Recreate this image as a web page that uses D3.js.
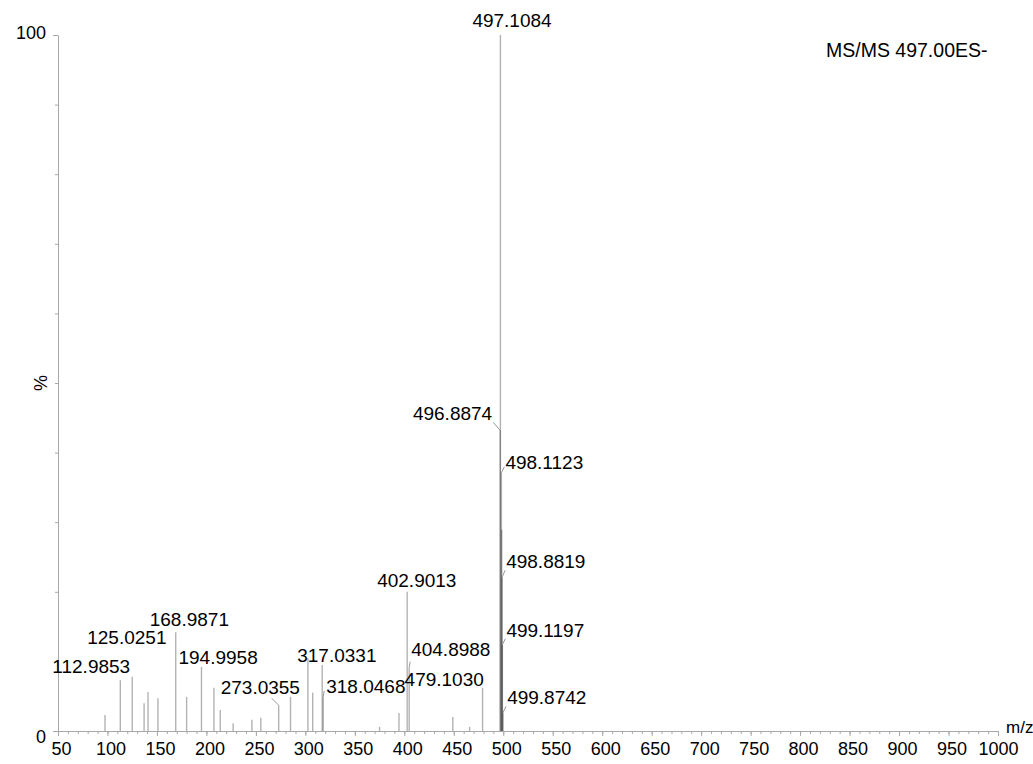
<!DOCTYPE html>
<html>
<head>
<meta charset="utf-8">
<script src="https://cdn.jsdelivr.net/npm/d3@7"></script>
<style>
  html, body { margin: 0; padding: 0; background: #fff; }
  svg { display: block; font-family: "Liberation Sans", Arial, sans-serif; }
  .axis path, .axis line { stroke: #a8a8a8; }
  .axis text { fill: #000; font-size: 18px; }
</style>
</head>
<body>
<svg id="chart" width="1033" height="764"></svg>
<script>
// peak list (m/z, relative intensity %)
const peakMz = [97.5, 112.9853, 125.0251, 137, 141, 151, 168.9871, 180, 194.9958, 207.6, 214, 227, 246, 255,
  273.0355, 285, 302.6, 307.4, 317.0331, 318.0468, 375, 394.6, 402.9013, 404.8988, 449, 466, 479.1030,
  496.8874, 497.1084, 498.1123, 498.4, 498.8819, 499.1197, 499.8742];
const peakPct = [2.3, 7.3, 7.8, 4.0, 5.6, 4.7, 14.2, 4.9, 9.2, 6.2, 3.0, 1.1, 1.6, 1.9,
  3.7, 4.9, 10.5, 5.5, 9.5, 4.9, 0.6, 2.6, 20.0, 9.1, 2.0, 0.6, 6.2,
  43.2, 100, 37.1, 28.9, 22.1, 12.4, 2.7];

const labelled = ["112.9853", "125.0251", "168.9871", "194.9958", "273.0355", "317.0331", "318.0468",
  "402.9013", "404.8988", "479.1030", "496.8874", "497.1084", "498.1123", "498.8819", "499.1197", "499.8742"];

const xTicks = d3.range(50, 1001, 50);
const xMinor = d3.range(50, 1001, 10);
const yTicks = [0, 100];
const yMinor = d3.range(0, 101, 10);
const title = "MS/MS 497.00ES-";

// label placement relative to the peak top, in px: [dx, dy, anchor, leader start or null]
const labelLayout = {
  "112.9853": [-68, -7, "start", null],
  "125.0251": [-45, -33, "start", null],
  "168.9871": [-26, -6, "start", null],
  "194.9958": [-23, -3, "start", null],
  "273.0355": [-58, -11, "start", [-7, -7]],
  "317.0331": [-25, -3, "start", null],
  "318.0468": [3, -4, "start", [1, -6]],
  "402.9013": [-30, -5, "start", null],
  "404.8988": [2, -12, "start", [1, -6]],
  "479.1030": [-78, -2, "start", null],
  "496.8874": [-8, -10, "end", [-7, -8]],
  "497.1084": [-28, -8, "start", null],
  "498.1123": [4, -4, "start", [3, -6]],
  "498.8819": [4, -9, "start", [3, -7]],
  "499.1197": [4, -8, "start", [3, -6]],
  "499.8742": [4, -8, "start", [3, -6]]
};

const svg = d3.select("#chart");
const x = d3.scaleLinear().domain([50, 1000]).range([58, 998]);
const y = d3.scaleLinear().domain([0, 100]).range([731, 35]);

// minor ticks
svg.append("g").attr("class", "axis").attr("transform", `translate(0,${y(0)})`)
  .call(d3.axisBottom(x).tickValues(xMinor).tickSize(3).tickFormat(""))
  .call(g => g.select(".domain").remove());
svg.append("g").attr("class", "axis").attr("transform", `translate(${x(50)},0)`)
  .call(d3.axisLeft(y).tickValues(yMinor).tickSize(3).tickFormat(""))
  .call(g => g.select(".domain").remove());

// main axes
const xAxis = svg.append("g").attr("class", "axis").attr("transform", `translate(0,${y(0)})`)
  .call(d3.axisBottom(x).tickValues(xTicks).tickSize(5).tickPadding(6).tickSizeOuter(0)
    .tickFormat(d3.format("d")));
xAxis.selectAll("text").attr("dx", d => d === 1000 ? 0 : 3);

const yAxis = svg.append("g").attr("class", "axis").attr("transform", `translate(${x(50)},0)`)
  .call(d3.axisLeft(y).tickValues(yTicks).tickSize(5).tickPadding(7).tickSizeOuter(0));
yAxis.selectAll(".tick text").attr("dy", d => d === 0 ? "0.65em" : "0.2em");

svg.append("text").attr("transform", `translate(47,${y(50)}) rotate(-90)`)
  .attr("text-anchor", "middle").attr("font-size", 18).attr("fill", "#000").text("%");
svg.append("text").attr("x", 1006).attr("y", y(0) + 2)
  .attr("font-size", 17).attr("fill", "#000").text("m/z");

svg.append("text").attr("x", 826).attr("y", 57)
  .attr("font-size", 19.5).attr("fill", "#000").text(title);

// sticks
const peaks = peakMz.map((m, i) => ({ mz: m, pct: peakPct[i] }));
svg.append("g").selectAll("line").data(peaks).enter().append("line")
  .attr("x1", d => x(d.mz)).attr("x2", d => x(d.mz))
  .attr("y1", y(0)).attr("y2", d => y(d.pct))
  .attr("stroke", "#000").attr("stroke-opacity", 0.3).attr("stroke-width", 1.4);

// peak labels
const lab = peaks.filter(p => labelled.includes(p.mz.toFixed(4)));
const lg = svg.append("g");
lab.forEach(p => {
  const txt = p.mz.toFixed(4);
  const [dx, dy, anchor, lead] = labelLayout[txt];
  const px = x(p.mz), py = y(p.pct);
  if (lead) {
    lg.append("line")
      .attr("x1", px + lead[0]).attr("y1", py + lead[1])
      .attr("x2", px).attr("y2", py)
      .attr("stroke", "#999").attr("stroke-width", 1);
  }
  lg.append("text").attr("x", px + dx).attr("y", py + dy)
    .attr("text-anchor", anchor).attr("font-size", 19).attr("fill", "#000")
    .text(txt);
});
</script>
</body>
</html>
